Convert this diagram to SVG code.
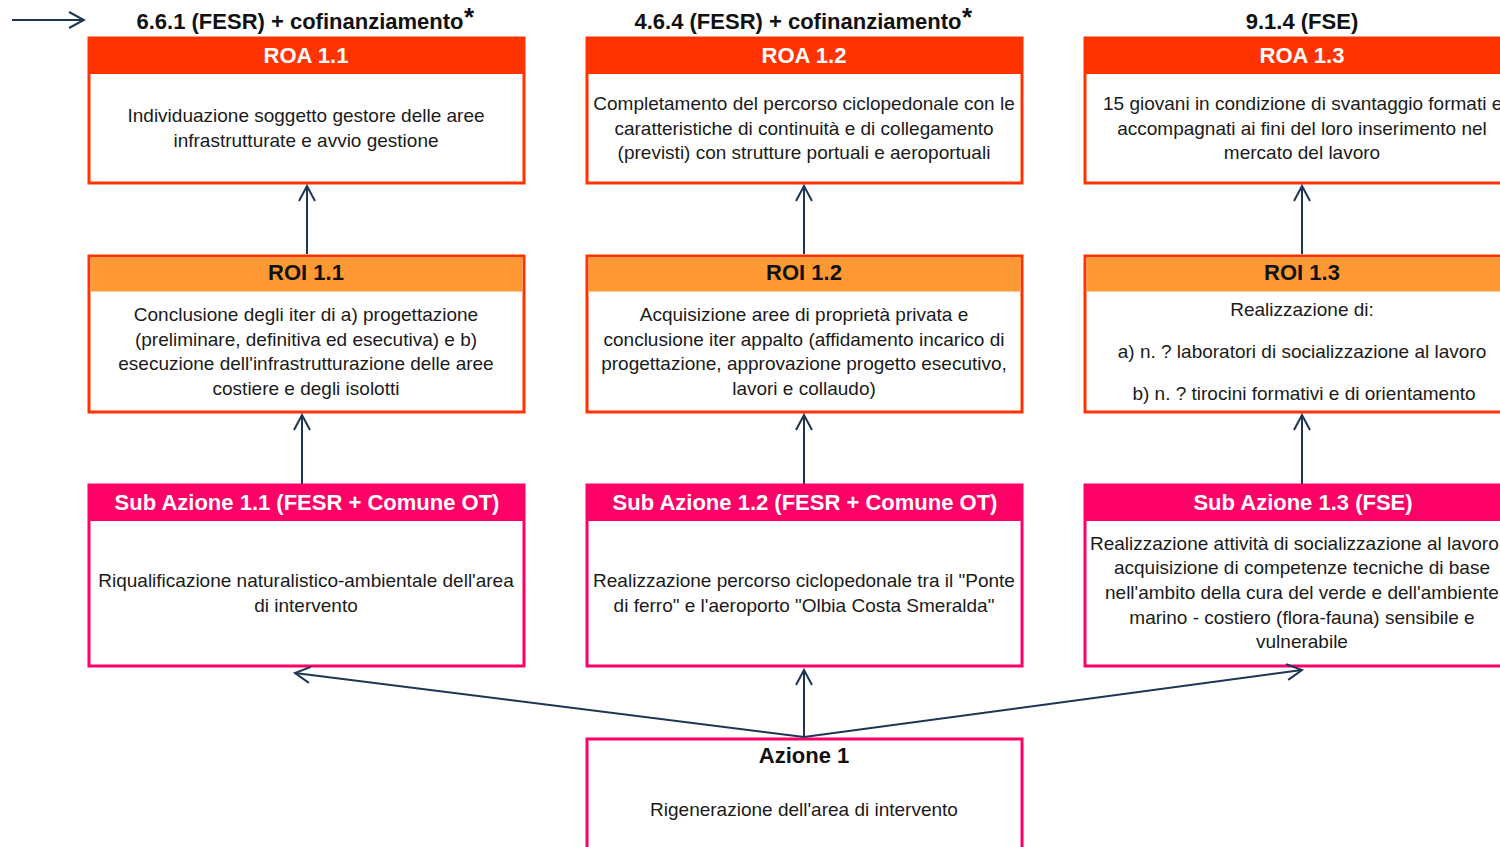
<svg xmlns="http://www.w3.org/2000/svg" width="1500" height="847" viewBox="0 0 1500 847">
<defs>
<marker id="ah" viewBox="0 0 20 20" refX="18" refY="10" markerWidth="20" markerHeight="20" markerUnits="userSpaceOnUse" orient="auto">
<path d="M3,2 L18,10 L3,18" fill="none" stroke="#1f3554" stroke-width="2"/>
</marker>
<style>
.t{font-family:"Liberation Sans",Arial,sans-serif;font-size:19px;fill:#1a1a1a;text-anchor:middle}
.h{font-family:"Liberation Sans",Arial,sans-serif;font-size:22px;font-weight:bold;text-anchor:middle}
.w{fill:#ffffff}
.k{fill:#111111}
.roa{fill:#ffffff;stroke:#ff3300;stroke-width:3}
.roi{fill:#ffffff;stroke:#ff3300;stroke-width:3}
.sub{fill:#ffffff;stroke:#ff0066;stroke-width:3}
.hroa{fill:#ff3300}
.hroi{fill:#ff9933}
.hsub{fill:#ff0066}
.c{fill:none;stroke:#1f3554;stroke-width:2;marker-end:url(#ah)}
</style>
</defs>
<rect width="1500" height="847" fill="#ffffff"/>
<g id="titles">
<text class="h k" x="300" y="29">6.6.1 (FESR) + cofinanziamento</text>
<text class="h k" x="469" y="26" style="font-size:26px">*</text>
<text class="h k" x="798" y="29">4.6.4 (FESR) + cofinanziamento</text>
<text class="h k" x="967" y="26" style="font-size:26px">*</text>
<text class="h k" x="1302" y="29">9.1.4 (FSE)</text>
</g>
<g id="roa11">
<rect class="roa" x="89" y="38" width="435" height="145"/>
<rect class="hroa" x="89" y="38" width="435" height="36"/>
<text class="h w" x="306" y="63">ROA 1.1</text>
<text class="t" x="306" y="122">Individuazione soggetto gestore delle aree</text>
<text class="t" x="306" y="147">infrastrutturate e avvio gestione</text>
</g>
<g id="roa12">
<rect class="roa" x="587" y="38" width="435" height="145"/>
<rect class="hroa" x="587" y="38" width="435" height="36"/>
<text class="h w" x="804" y="63">ROA 1.2</text>
<text class="t" x="804" y="110">Completamento del percorso ciclopedonale con le</text>
<text class="t" x="804" y="135">caratteristiche di continuità e di collegamento</text>
<text class="t" x="804" y="159">(previsti) con strutture portuali e aeroportuali</text>
</g>
<g id="roa13">
<rect class="roa" x="1085" y="38" width="435" height="145"/>
<rect class="hroa" x="1085" y="38" width="435" height="36"/>
<text class="h w" x="1302" y="63">ROA 1.3</text>
<text class="t" x="1103" y="110" style="text-anchor:start">15 giovani in condizione di svantaggio formati e</text>
<text class="t" x="1302" y="135">accompagnati ai fini del loro inserimento nel</text>
<text class="t" x="1302" y="159">mercato del lavoro</text>
</g>
<g id="roi11">
<rect class="roi" x="89" y="256" width="435" height="156"/>
<rect class="hroi" x="90.5" y="257.5" width="432" height="34"/>
<text class="h k" x="306" y="280">ROI 1.1</text>
<text class="t" x="306" y="321">Conclusione degli iter di a) progettazione</text>
<text class="t" x="306" y="346">(preliminare, definitiva ed esecutiva) e b)</text>
<text class="t" x="306" y="370">esecuzione dell'infrastrutturazione delle aree</text>
<text class="t" x="306" y="395">costiere e degli isolotti</text>
</g>
<g id="roi12">
<rect class="roi" x="587" y="256" width="435" height="156"/>
<rect class="hroi" x="588.5" y="257.5" width="432" height="34"/>
<text class="h k" x="804" y="280">ROI 1.2</text>
<text class="t" x="804" y="321">Acquisizione aree di proprietà privata e</text>
<text class="t" x="804" y="346">conclusione iter appalto (affidamento incarico di</text>
<text class="t" x="804" y="370">progettazione, approvazione progetto esecutivo,</text>
<text class="t" x="804" y="395">lavori e collaudo)</text>
</g>
<g id="roi13">
<rect class="roi" x="1085" y="256" width="435" height="156"/>
<rect class="hroi" x="1086.5" y="257.5" width="432" height="34"/>
<text class="h k" x="1302" y="280">ROI 1.3</text>
<text class="t" x="1302" y="316">Realizzazione di:</text>
<text class="t" x="1302" y="358">a) n. ? laboratori di socializzazione al lavoro</text>
<text class="t" x="1304" y="400">b) n. ? tirocini formativi e di orientamento</text>
</g>
<g id="sub11">
<rect class="sub" x="89" y="485" width="435" height="181"/>
<rect class="hsub" x="89" y="485" width="435" height="36"/>
<text class="h w" x="307" y="510">Sub Azione 1.1 (FESR + Comune OT)</text>
<text class="t" x="306" y="587">Riqualificazione naturalistico-ambientale dell'area</text>
<text class="t" x="306" y="612">di intervento</text>
</g>
<g id="sub12">
<rect class="sub" x="587" y="485" width="435" height="181"/>
<rect class="hsub" x="587" y="485" width="435" height="36"/>
<text class="h w" x="805" y="510">Sub Azione 1.2 (FESR + Comune OT)</text>
<text class="t" x="804" y="587">Realizzazione percorso ciclopedonale tra il "Ponte</text>
<text class="t" x="804" y="612">di ferro" e l'aeroporto "Olbia Costa Smeralda"</text>
</g>
<g id="sub13">
<rect class="sub" x="1085" y="485" width="435" height="181"/>
<rect class="hsub" x="1085" y="485" width="435" height="36"/>
<text class="h w" x="1303" y="510">Sub Azione 1.3 (FSE)</text>
<text class="t" x="1090" y="550" style="text-anchor:start">Realizzazione attività di socializzazione al lavoro</text>
<text class="t" x="1302" y="574">acquisizione di competenze tecniche di base</text>
<text class="t" x="1105" y="599" style="text-anchor:start">nell'ambito della cura del verde e dell'ambiente</text>
<text class="t" x="1302" y="624">marino - costiero (flora-fauna) sensibile e</text>
<text class="t" x="1302" y="648">vulnerabile</text>
</g>
<g id="azione1">
<rect class="sub" x="587" y="739" width="435" height="120"/>
<text class="h k" x="804" y="763">Azione 1</text>
<text class="t" x="804" y="816">Rigenerazione dell'area di intervento</text>
</g>
<g id="connectors">
<line class="c" x1="12" y1="20" x2="84" y2="20"/>
<line class="c" x1="307" y1="254" x2="307" y2="186"/>
<line class="c" x1="302" y1="484" x2="302" y2="415"/>
<line class="c" x1="804" y1="254" x2="804" y2="186"/>
<line class="c" x1="804" y1="484" x2="804" y2="415"/>
<line class="c" x1="1302" y1="254" x2="1302" y2="186"/>
<line class="c" x1="1302" y1="484" x2="1302" y2="415"/>
<line class="c" x1="804" y1="737" x2="804" y2="670"/>
<line class="c" x1="804" y1="737" x2="295" y2="673"/>
<line class="c" x1="804" y1="737" x2="1302" y2="670"/>
</g>
</svg>
